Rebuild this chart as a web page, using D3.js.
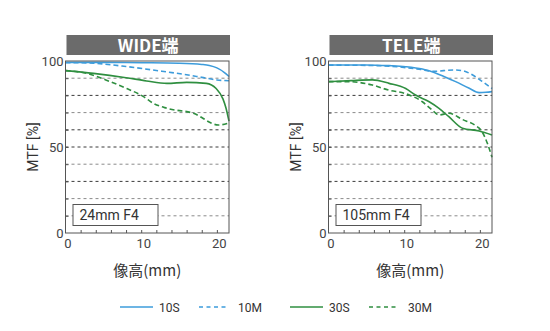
<!DOCTYPE html>
<html>
<head>
<meta charset="utf-8">
<script src="https://cdn.jsdelivr.net/npm/d3@7"></script>
<style>
  body { margin: 0; background: #fff; }
  svg { display: block; }
</style>
</head>
<body>
<svg id="chart" width="550" height="331"></svg>
<script>
"use strict";

// MTF curves, [image height mm, MTF %]
const wide10S = [[0,99.2],[5,99.2],[10,99],[15,98.7],[18,98],[19,97.4],[20,96],[21,93.3],[21.6,91]];
const wide10M = [[0,99],[2,99],[4,98.6],[8,96.8],[12,94.5],[16,92],[18,90.5],[20,89],[21.6,88.5]];
const wide30S = [[0,94.4],[3.7,92.8],[8,90.3],[10.7,88.4],[13.4,87],[16,87.6],[18.6,87],[19.9,84],[20.8,78],[21.2,72.7],[21.6,65]];
const wide30M = [[0,94.4],[2.8,92.8],[5.9,88],[8.1,84],[10.3,79.3],[11.6,75.4],[13.4,72.5],[16.9,69.6],[20.2,62.8],[21.6,64]];

const tele10S = [[0,97.7],[5,97.7],[8,97.3],[10.2,96.7],[12.4,95.3],[14.6,92.2],[16.8,88],[18.6,84.1],[19.9,81.6],[20.8,81.8],[21.6,82.2]];
const tele10M = [[0,97.6],[4,97.5],[8,97],[12,95.2],[14,94],[15.2,94.4],[16.8,94.8],[18,94],[19,92],[20.5,87.5],[21.6,84]];
const tele30S = [[0,88],[3,88.6],[5.8,89],[8,87],[10.2,84],[11.5,80.2],[13.3,76.3],[14.6,72.5],[15.9,67.6],[17.7,60.9],[19.9,59.3],[21.6,57]];
const tele30M = [[0,88],[2.7,88],[5.8,86],[8,83],[10.2,81],[12.4,76.3],[13.7,71.5],[14.6,68.6],[15.9,69.6],[17.7,66],[19.4,62.5],[20.2,59.5],[21,52],[21.6,44]];

const panelTitles = ["WIDE端", "TELE端"];
const panelLenses = ["24mm F4", "105mm F4"];
const seriesNames = ["10S", "10M", "30S", "30M"];
const xTickLabels = [0, 10, 20];
const yTickLabels = [0, 50, 100];
const gridValues = [10, 20, 30, 40, 50, 60, 70, 80, 90];
const gridDark = [30, 50, 60, 80];

const blue = "#3d9cdb", green = "#2f8f40";
const seriesStyle = {
    "10S": { color: blue, dash: null },
    "10M": { color: blue, dash: "5,3" },
    "30S": { color: green, dash: null },
    "30M": { color: green, dash: "5,3" }
};
const panels = [
    { title: panelTitles[0], lens: panelLenses[0], left: 65.5, data: [wide10S, wide10M, wide30S, wide30M] },
    { title: panelTitles[1], lens: panelLenses[1], left: 328.5, data: [tele10S, tele10M, tele30S, tele30M] }
];

const svg = d3.select("#chart");
const plotW = 163.5, plotTop = 61, plotBottom = 233;
const numFont = "Roboto, 'DejaVu Sans', sans-serif";
const jpFont = "'Noto Sans CJK JP', 'Noto Sans', sans-serif";

panels.forEach(function(p) {
    let x = d3.scaleLinear().domain([0, 21.6]).range([p.left, p.left + plotW]);
    let y = d3.scaleLinear().domain([0, 100]).range([plotBottom, plotTop]);
    let g = svg.append("g");

    // title bar
    g.append("rect")
    .attr("x", p.left + 1).attr("y", 35)
    .attr("width", plotW).attr("height", 20)
    .attr("fill", "#6b6b6b");
    g.append("text")
    .attr("x", p.left + 1 + plotW / 2).attr("y", 52)
    .attr("text-anchor", "middle")
    .attr("fill", "#fff")
    .attr("font-family", jpFont)
    .attr("font-weight", "bold")
    .attr("font-size", 17)
    .text(p.title);

    // dashed grid
    g.selectAll("line.grid")
    .data(gridValues)
    .enter().append("line")
    .attr("class", "grid")
    .attr("x1", x(0)).attr("x2", x(21.6))
    .attr("y1", d => y(d)).attr("y2", d => y(d))
    .attr("stroke", d => gridDark.includes(d) ? "#3a3a3a" : "#8a8a8a")
    .attr("stroke-width", 1)
    .attr("stroke-dasharray", "3,3");

    // lens label
    g.append("rect")
    .attr("x", p.left + 7.5).attr("y", 204.5)
    .attr("width", 85).attr("height", 21)
    .attr("fill", "#fff").attr("stroke", "#555").attr("stroke-width", 1);
    g.append("text")
    .attr("x", p.left + 14).attr("y", 220)
    .attr("fill", "#333")
    .attr("font-family", numFont)
    .attr("font-size", 14)
    .text(p.lens);

    // curves
    let line = d3.line()
    .x(d => x(d[0]))
    .y(d => y(d[1]))
    .curve(d3.curveMonotoneX);
    p.data.forEach(function(s, i) {
        let st = seriesStyle[seriesNames[i]];
        g.append("path")
        .datum(s)
        .attr("d", line)
        .attr("fill", "none")
        .attr("stroke", st.color)
        .attr("stroke-width", 1.6)
        .attr("stroke-dasharray", st.dash);
    });

    // frame
    g.append("rect")
    .attr("x", x(0)).attr("y", plotTop)
    .attr("width", plotW).attr("height", plotBottom - plotTop)
    .attr("fill", "none").attr("stroke", "#555").attr("stroke-width", 1);

    // inner ticks
    g.append("g")
    .attr("transform", `translate(0,${plotBottom})`)
    .call(d3.axisTop(x).tickValues(d3.range(2, 21, 2)).tickSize(3).tickFormat(""))
    .call(a => a.select(".domain").remove())
    .selectAll("line").attr("stroke", "#555");
    g.append("g")
    .attr("transform", `translate(${x(0)},0)`)
    .call(d3.axisRight(y).tickValues(gridValues).tickSize(3).tickFormat(""))
    .call(a => a.select(".domain").remove())
    .selectAll("line").attr("stroke", "#555");

    // tick labels
    g.selectAll("text.xl")
    .data(xTickLabels)
    .enter().append("text")
    .attr("class", "xl")
    .attr("x", d => x(d) + 2.5).attr("y", 248)
    .attr("text-anchor", "middle")
    .attr("fill", "#444")
    .attr("font-family", numFont)
    .attr("font-size", 13)
    .text(d => d);
    g.selectAll("text.yl")
    .data(yTickLabels)
    .enter().append("text")
    .attr("class", "yl")
    .attr("x", x(0) - 2).attr("y", d => y(d) + 4.5)
    .attr("text-anchor", "end")
    .attr("fill", "#444")
    .attr("font-family", numFont)
    .attr("font-size", 13)
    .text(d => d);

    // axis titles
    g.append("text")
    .attr("transform", `translate(${p.left - 28},147) rotate(-90)`)
    .attr("text-anchor", "middle")
    .attr("fill", "#333")
    .attr("font-family", numFont)
    .attr("font-size", 14)
    .text("MTF [%]");
    g.append("text")
    .attr("x", p.left + plotW / 2).attr("y", 276)
    .attr("text-anchor", "middle")
    .attr("fill", "#333")
    .attr("font-family", jpFont)
    .attr("font-size", 15)
    .text("像高(mm)");
});

// legend
const legendX = [120, 199, 290, 369];
const legendLen = [33, 29, 33, 29];
const leg = svg.append("g").attr("transform", "translate(0,307)");
seriesNames.forEach(function(n, i) {
    let st = seriesStyle[n];
    leg.append("line")
    .attr("x1", legendX[i]).attr("x2", legendX[i] + legendLen[i])
    .attr("y1", 0).attr("y2", 0)
    .attr("stroke", st.color)
    .attr("stroke-width", 1.6)
    .attr("stroke-dasharray", st.dash ? "4,3.5" : null);
    leg.append("text")
    .attr("x", legendX[i] + legendLen[i] + (i % 2 ? 10 : 6)).attr("y", 4.5)
    .attr("fill", "#333")
    .attr("font-family", numFont)
    .attr("font-size", 12)
    .text(n);
});
</script>
</body>
</html>
